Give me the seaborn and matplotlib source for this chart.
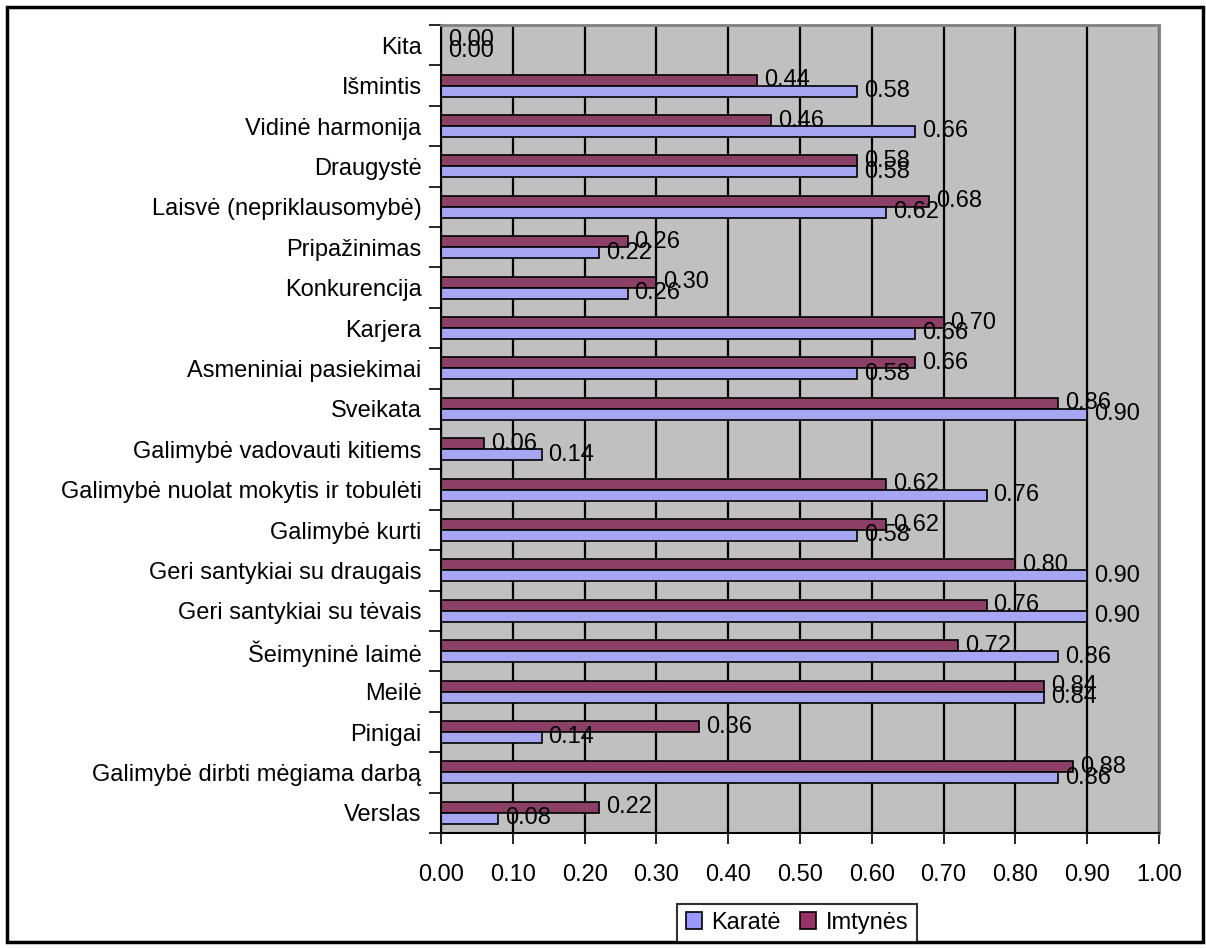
import pandas as pd
import seaborn as sns
import matplotlib.pyplot as plt
from matplotlib.patches import Patch, Rectangle
from matplotlib.ticker import FixedLocator

# categories listed top to bottom, as they appear on the chart
categories = ['Kita', 'Išmintis', 'Vidinė harmonija', 'Draugystė',
              'Laisvė (nepriklausomybė)', 'Pripažinimas', 'Konkurencija',
              'Karjera', 'Asmeniniai pasiekimai', 'Sveikata',
              'Galimybė vadovauti kitiems', 'Galimybė nuolat mokytis ir tobulėti',
              'Galimybė kurti', 'Geri santykiai su draugais',
              'Geri santykiai su tėvais', 'Šeimyninė laimė', 'Meilė', 'Pinigai',
              'Galimybė dirbti mėgiama darbą', 'Verslas']
karate = [0.00, 0.58, 0.66, 0.58, 0.62, 0.22, 0.26, 0.66, 0.58, 0.90,
          0.14, 0.76, 0.58, 0.90, 0.90, 0.86, 0.84, 0.14, 0.86, 0.08]
imtynes = [0.00, 0.44, 0.46, 0.58, 0.68, 0.26, 0.30, 0.70, 0.66, 0.86,
           0.06, 0.62, 0.62, 0.80, 0.76, 0.72, 0.84, 0.36, 0.88, 0.22]
series = ['Imtynės', 'Karatė']
colors = {'Karatė': '#9999FF', 'Imtynės': '#993366'}
xticks = [i / 10 for i in range(11)]

df = pd.DataFrame({'kategorija': categories * 2,
                   'reiksme': imtynes + karate,
                   'grupe': ['Imtynės'] * len(categories) + ['Karatė'] * len(categories)})

sns.set_style('white')
plt.rcParams['font.family'] = ['Liberation Sans', 'DejaVu Sans']
plt.rcParams['text.color'] = 'black'
plt.rcParams['xtick.color'] = 'black'
plt.rcParams['ytick.color'] = 'black'
plt.rcParams['axes.labelcolor'] = 'black'
fs = 17

fig = plt.figure(figsize=(12.06, 9.48), dpi=100)
ax = fig.add_axes([441 / 1206, 1 - 833 / 948, (1159 - 441) / 1206, (833 - 25) / 948])

sns.barplot(data=df, y='kategorija', x='reiksme', hue='grupe', order=categories,
            hue_order=series, palette=colors, orient='h', width=0.54, gap=0,
            edgecolor='black', linewidth=1.2, legend=False, ax=ax)

for cont in ax.containers:
    ax.bar_label(cont, fmt='%.2f', padding=5, fontsize=fs, color='black')

ax.set_facecolor('#C0C0C0')
ax.set_xlim(0, 1)
ax.set_ylim(len(categories) - 0.5, -0.5)
ax.set_xticks(xticks)
ax.set_xticklabels([f'{t:.2f}' for t in xticks], fontsize=fs)
ax.tick_params(axis='x', length=8, width=1.2, color='black', pad=14, direction='out', bottom=True)
ax.tick_params(axis='y', which='major', length=0, pad=14, labelsize=fs)
ax.yaxis.set_minor_locator(FixedLocator([i - 0.5 for i in range(len(categories) + 1)]))
ax.tick_params(axis='y', which='minor', length=9, width=1.2, color='black', direction='out', left=True)
ax.xaxis.grid(True, color='black', linewidth=1.6)
ax.set_axisbelow(True)
ax.set_xlabel('')
ax.set_ylabel('')

for side in ['left', 'bottom']:
    ax.spines[side].set_color('black')
    ax.spines[side].set_linewidth(1.5)
for side in ['top', 'right']:
    ax.spines[side].set_color('#808080')
    ax.spines[side].set_linewidth(2)
    ax.spines[side].set_visible(True)

handles = [Patch(facecolor=colors[s], edgecolor='black', linewidth=1.2) for s in ['Karatė', 'Imtynės']]
leg = fig.legend(handles, ['Karatė', 'Imtynės'], loc='center',
                 bbox_to_anchor=(797 / 1206, 1 - 923 / 948), ncol=2, fontsize=fs,
                 frameon=True, fancybox=False, handlelength=0.7, handleheight=0.7,
                 handletextpad=0.4, columnspacing=0.8, borderpad=0.35)
leg.get_frame().set_edgecolor('black')
leg.get_frame().set_linewidth(1.5)

fig.patches.append(Rectangle((7 / 1206, 6 / 948), 1196 / 1206, 935 / 948,
                             transform=fig.transFigure, fill=False,
                             edgecolor='black', linewidth=2.5))

plt.savefig('out.png', dpi=100)
